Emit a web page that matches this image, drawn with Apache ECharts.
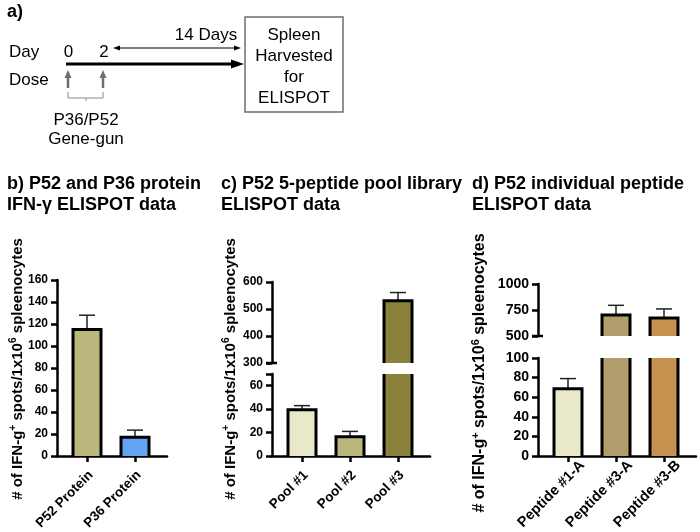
<!DOCTYPE html>
<html><head><meta charset="utf-8">
<script src="https://cdn.jsdelivr.net/npm/echarts@6/dist/echarts.min.js"></script>
<style>html,body{margin:0;padding:0;background:#fff}#c{width:700px;height:532px}</style>
</head><body><div id="c"></div>
<script>
const FONT = '"Liberation Sans", Arial, Helvetica, sans-serif';

// ---- Panel b data ----
const catsB = ['P52 Protein', 'P36 Protein'];
const valsB = [115, 17];
const errB = [13, 6.5];
const colorsB = ['#bbb67b', '#62a3f3'];
const ticksB = [0, 20, 40, 60, 80, 100, 120, 140, 160];

// ---- Panel c data ----
const catsC = ['Pool #1', 'Pool #2', 'Pool #3'];
const valsC = [39.5, 16.5, 531];
const errC = [3.5, 4.5, 30];
const colorsC = ['#e9e9ca', '#bbb67b', '#8a823b'];
const ticksCLow = [0, 20, 40, 60];
const ticksCHigh = [300, 400, 500, 600];

// ---- Panel d data ----
const catsD = ['Peptide #1-A', 'Peptide #3-A', 'Peptide #3-B'];
const valsD = [68.5, 701, 672];
const errD = [10.5, 94, 88];
const colorsD = ['#e9e9ca', '#b29d6d', '#c4914f'];
const ticksDLow = [0, 20, 40, 60, 80, 100];
const ticksDHigh = [500, 750, 1000];

const AX = {color: '#000', width: 2.5};

function outline(yMin, yMax) {
  return function (params, api) {
    const i = api.value(0), v = api.value(1), e = api.value(2);
    if (v <= yMin) return {type: 'group', children: []};
    const hw = 14;
    const top = Math.min(v, yMax);
    const pt = api.coord([i, top]);
    const pb = api.coord([i, yMin]);
    const st = {stroke: '#000', lineWidth: 3, fill: null};
    const ch = [];
    if (v > yMax) {
      ch.push({type: 'line', shape: {x1: pt[0] - hw, y1: pt[1], x2: pt[0] - hw, y2: pb[1]}, style: st});
      ch.push({type: 'line', shape: {x1: pt[0] + hw, y1: pt[1], x2: pt[0] + hw, y2: pb[1]}, style: st});
    } else {
      const pe = api.coord([i, v + e]);
      const es = {stroke: '#222', lineWidth: 1.5};
      ch.push({type: 'line', shape: {x1: pt[0], y1: pt[1], x2: pt[0], y2: pe[1]}, style: es});
      ch.push({type: 'line', shape: {x1: pt[0] - 8, y1: pe[1], x2: pt[0] + 8, y2: pe[1]}, style: es});
      ch.push({type: 'polyline', shape: {points: [[pt[0] - hw, pb[1]], [pt[0] - hw, pt[1]], [pt[0] + hw, pt[1]], [pt[0] + hw, pb[1]]]}, style: st});
    }
    return {type: 'group', children: ch};
  };
}

// small tick crossing the axis at the lower end of an upper (broken) segment
function breakTick(yMin) {
  return function (params, api) {
    const p = api.coord([api.value(0), yMin]);
    return {type: 'line', shape: {x1: p[0] - 6, y1: p[1], x2: p[0] + 5, y2: p[1]}, style: {stroke: '#000', lineWidth: 2.5}};
  };
}

const grids = [], xAxes = [], yAxes = [], series = [];
function segment(grid, cats, vals, errs, colors, yMin, yMax, tickVals, labelVals, showX, st) {
  const gi = grids.length;
  const xMin = -0.625;
  const sh = st.shift;
  grids.push(Object.assign({containLabel: false, outerBoundsMode: 'none'}, grid));
  xAxes.push({
    gridIndex: gi, type: 'value', min: xMin, max: cats.length - 0.5 + 1 / 6,
    show: showX,
    axisLine: {show: true, onZero: false, lineStyle: AX},
    axisTick: {show: true, customValues: cats.map((_, i) => i), length: 6, lineStyle: AX},
    axisLabel: {show: true, customValues: cats.map((_, i) => i + sh),
      formatter: v => cats[Math.round(v - sh)], rotate: 45, margin: st.margin,
      fontFamily: FONT, fontWeight: 'bold', fontSize: st.fx, color: '#000'},
    splitLine: {show: false}
  });
  yAxes.push({
    gridIndex: gi, type: 'value', min: yMin, max: yMax,
    axisLine: {show: true, onZero: false, lineStyle: AX},
    axisTick: {show: true, customValues: tickVals, length: 6, lineStyle: AX},
    axisLabel: {show: true, customValues: labelVals, margin: 9, formatter: v => String(v),
      fontFamily: FONT, fontWeight: 'bold', fontSize: st.fy, color: '#000'},
    splitLine: {show: false}
  });
  series.push({
    type: 'bar', xAxisIndex: gi, yAxisIndex: gi, barWidth: 28, clip: true, silent: true,
    data: vals.map((v, i) => ({value: [i, v], itemStyle: {color: colors[i], borderWidth: 0}}))
  });
  series.push({
    type: 'custom', xAxisIndex: gi, yAxisIndex: gi, silent: true, z: 3,
    encode: {x: 0, y: 1},
    data: vals.map((v, i) => [i, v, errs[i]]),
    renderItem: outline(yMin, yMax)
  });
  if (!showX) {
    series.push({
      type: 'custom', xAxisIndex: gi, yAxisIndex: gi, silent: true, z: 4, clip: false,
      encode: {x: 0, y: 1}, data: [[xMin, yMin]], renderItem: breakTick(yMin)
    });
  }
}

const stBC = {fy: 12, fx: 13.5, shift: 0.08, margin: 17};
const stD = {fy: 14, fx: 14.5, shift: 0.3, margin: 7};
segment({left: 57, top: 280, width: 110, height: 176}, catsB, valsB, errB, colorsB, 0, 160, ticksB, ticksB, true, stBC);
segment({left: 272, top: 282, width: 158, height: 81}, catsC, valsC, errC, colorsC, 300, 600, ticksCHigh, ticksCHigh, false, stBC);
segment({left: 272, top: 374, width: 158, height: 82}, catsC, valsC, errC, colorsC, 0, 70, ticksCLow.concat([70]), ticksCLow, true, stBC);
segment({left: 538, top: 284, width: 158, height: 52}, catsD, valsD, errD, colorsD, 500, 1000, ticksDHigh, ticksDHigh, false, stD);
segment({left: 538, top: 358, width: 158, height: 98}, catsD, valsD, errD, colorsD, 0, 100, ticksDLow, ticksDLow, true, stD);

const titleStyle = {fontSize: 18, fontWeight: 'bold', fontFamily: FONT, color: '#000', lineHeight: 21};
const txt = (t, x, y, o) => ({type: 'text', x, y, silent: true,
  style: Object.assign({text: t, fontFamily: FONT, fontSize: 17, fill: '#000', verticalAlign: 'middle', align: 'left'}, o || {})});
const yTitle = (x, y, fs) => ({type: 'text', x, y, rotation: Math.PI / 2, silent: true,
  style: {text: '{m|# of IFN-g}{s|+}{m| spots/1x10}{s|6}{m| spleenocytes}', align: 'center', verticalAlign: 'middle',
    rich: {m: {fontSize: fs, fontWeight: 'bold', fontFamily: FONT, fill: '#000', lineHeight: 20},
           s: {fontSize: fs * 0.68, fontWeight: 'bold', fontFamily: FONT, fill: '#000', lineHeight: 12, verticalAlign: 'top'}}}});
const GR = '#6e6e6e';

const graphic = [
  txt('Day', 9, 52), txt('0', 68.5, 52, {align: 'center'}), txt('2', 104, 52, {align: 'center'}),
  txt('Dose', 9, 80),
  txt('14 Days', 206, 35, {align: 'center'}),
  txt('P36/P52\nGene-gun', 86, 130, {align: 'center', lineHeight: 19.5}),
  {type: 'rect', shape: {x: 245, y: 17, width: 98, height: 95}, style: {fill: null, stroke: GR, lineWidth: 1.5}},
  txt('Spleen\nHarvested\nfor\nELISPOT', 294, 66.5, {align: 'center', lineHeight: 21}),
  {type: 'line', shape: {x1: 66, y1: 64, x2: 233, y2: 64}, style: {stroke: '#000', lineWidth: 3}},
  {type: 'polygon', shape: {points: [[244, 64], [231, 59.5], [231, 68.5]]}, style: {fill: '#000'}},
  {type: 'line', shape: {x1: 118, y1: 48, x2: 236, y2: 48}, style: {stroke: '#000', lineWidth: 1}},
  {type: 'polygon', shape: {points: [[113, 48], [120, 45.5], [120, 50.5]]}, style: {fill: '#000'}},
  {type: 'polygon', shape: {points: [[241, 48], [234, 45.5], [234, 50.5]]}, style: {fill: '#000'}},
  {type: 'line', shape: {x1: 68, y1: 88, x2: 68, y2: 76}, style: {stroke: GR, lineWidth: 2.5}},
  {type: 'polygon', shape: {points: [[68, 70], [64.5, 78], [71.5, 78]]}, style: {fill: GR}},
  {type: 'line', shape: {x1: 103, y1: 88, x2: 103, y2: 76}, style: {stroke: GR, lineWidth: 2.5}},
  {type: 'polygon', shape: {points: [[103, 70], [99.5, 78], [106.5, 78]]}, style: {fill: GR}},
  {type: 'polyline', shape: {points: [[68, 92], [68, 98], [103, 98], [103, 92]]}, style: {stroke: '#888', lineWidth: 1, fill: null}},
  {type: 'line', shape: {x1: 86, y1: 98, x2: 86, y2: 101}, style: {stroke: '#888', lineWidth: 1}},
  yTitle(18, 369, 15), yTitle(231, 369, 15), yTitle(480, 373, 16)
];

const chart = echarts.init(document.getElementById('c'));
chart.setOption({
  animation: false,
  backgroundColor: '#fff',
  title: [
    {text: 'a)', left: 7, top: 2, padding: 0, textStyle: titleStyle},
    {text: 'b) P52 and P36 protein\nIFN-γ ELISPOT data', left: 7, top: 174, padding: 0, textStyle: titleStyle},
    {text: 'c) P52 5-peptide pool library\nELISPOT data', left: 221, top: 174, padding: 0, textStyle: titleStyle},
    {text: 'd) P52 individual peptide\nELISPOT data', left: 472, top: 174, padding: 0, textStyle: titleStyle}
  ],
  grid: grids, xAxis: xAxes, yAxis: yAxes, series: series, graphic: graphic
});
</script></body></html>
